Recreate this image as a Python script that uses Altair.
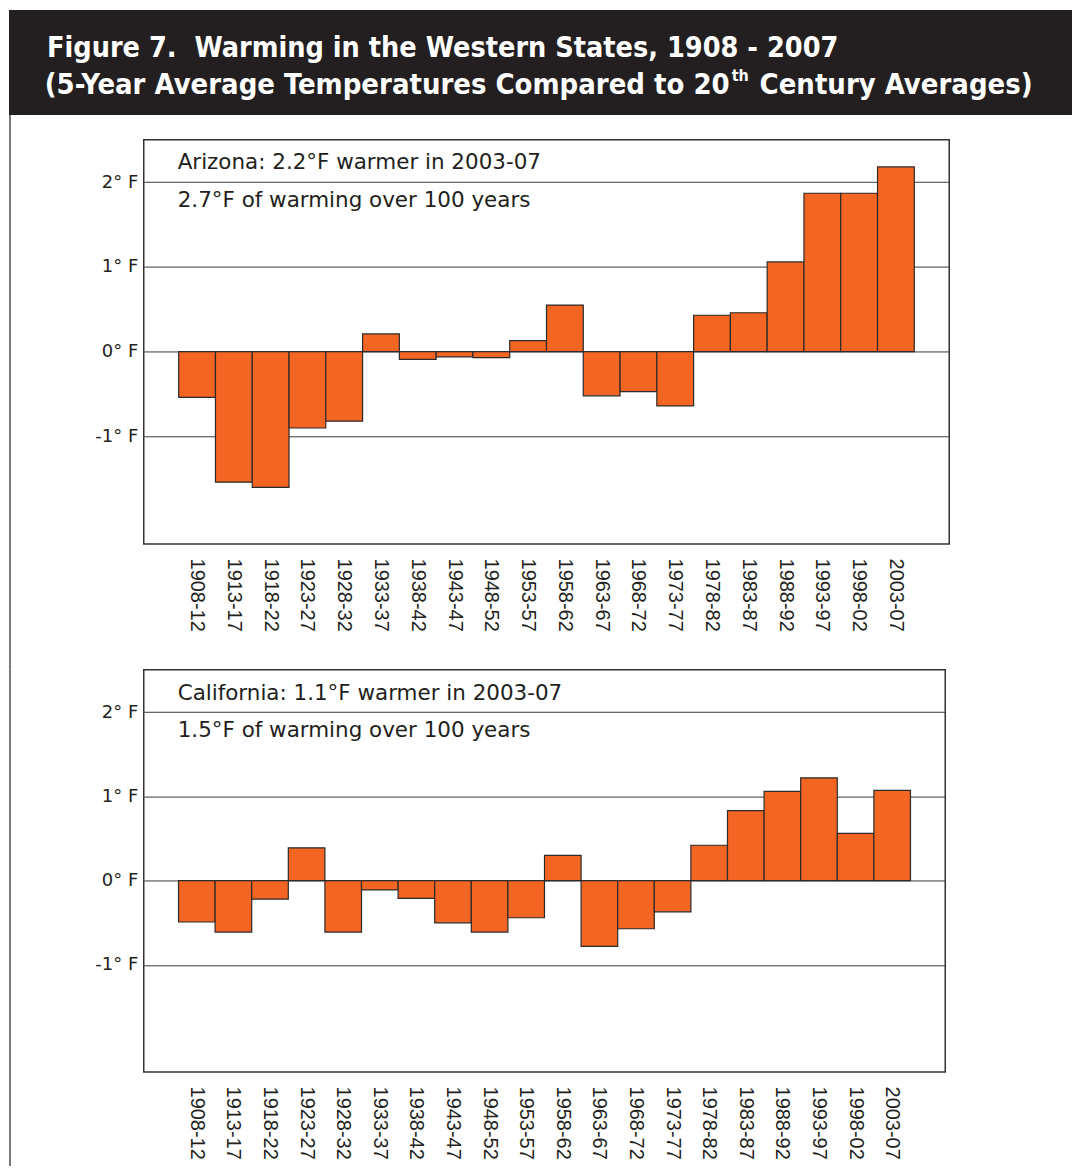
import altair as alt
import pandas as pd

# ---------------- data ----------------
periods = ["1908-12", "1913-17", "1918-22", "1923-27", "1928-32", "1933-37",
           "1938-42", "1943-47", "1948-52", "1953-57", "1958-62", "1963-67",
           "1968-72", "1973-77", "1978-82", "1983-87", "1988-92", "1993-97",
           "1998-02", "2003-07"]
arizona = [-0.54, -1.54, -1.60, -0.90, -0.82, 0.21, -0.09, -0.06, -0.07, 0.13,
           0.55, -0.52, -0.47, -0.64, 0.43, 0.46, 1.06, 1.87, 1.87, 2.18]
california = [-0.49, -0.61, -0.22, 0.39, -0.61, -0.11, -0.21, -0.50, -0.61, -0.44,
              0.30, -0.78, -0.57, -0.37, 0.42, 0.83, 1.06, 1.22, 0.56, 1.07]
y_ticks = [2, 1, 0, -1]
y_domain = [-2.27, 2.5]

title_line1 = "Figure 7.\u00a0 Warming in the Western States, 1908 - 2007"
title_line2a = "(5-Year Average Temperatures Compared to 20"
title_line2sup = "th"
title_line2b = "Century Averages)"
az_notes = ["Arizona: 2.2\u00b0F warmer in 2003-07", "2.7\u00b0F of warming over 100 years"]
ca_notes = ["California: 1.1\u00b0F warmer in 2003-07", "1.5\u00b0F of warming over 100 years"]

# ---------------- style ----------------
ORANGE = "#F26522"
DARK = "#231f20"
TITLE_FONT = "DejaVu Sans Condensed, sans-serif"
NOTE_FONT = "DejaVu Sans, sans-serif"
LABEL_FONT = "Liberation Sans, Arial, sans-serif"
ORIGIN_X = 135   # plot-area left offset from chart's left edge
HEAD_TOP = -130  # header top relative to first plot area
GAP = 126        # space between the two plot areas


def one(text):
    return pd.DataFrame({"t": [text]})


def title_text(text, x, y, size, align="left"):
    return alt.Chart(one(text)).mark_text(
        align=align, baseline="alphabetic", font=TITLE_FONT, fontSize=size,
        fontWeight="bold", color="white").encode(
        text="t:N", x=alt.value(x), y=alt.value(y))


def panel(values, notes, w, h, frame_top, frame_bottom, note_y, extra=()):
    df = pd.DataFrame({"period": periods, "temp": values})
    x = alt.X("period:N", sort=periods,
              scale=alt.Scale(paddingInner=0, paddingOuter=0.95),
              axis=alt.Axis(title=None, labelAngle=90, labelAlign="left",
                            labelBaseline="middle", labelFontSize=20,
                            labelFont=LABEL_FONT, labelColor=DARK,
                            labelPadding=14, domain=False, ticks=False,
                            grid=False))
    y = alt.Y("temp:Q",
              scale=alt.Scale(domain=y_domain, nice=False, zero=False),
              axis=alt.Axis(title=None, values=y_ticks,
                            labelExpr="datum.value + '\u00b0 F'",
                            grid=True, gridColor="#3a3a3a", gridWidth=1,
                            domain=False, ticks=False, labelFontSize=18,
                            labelFont=NOTE_FONT, labelColor=DARK,
                            labelPadding=6))
    bars = alt.Chart(df).mark_bar(fill=ORANGE, stroke="#2b2b2b",
                                  strokeWidth=1.2).encode(
        x=x, y=y, y2=alt.datum(0))
    layers = [bars]
    for note, ny in zip(notes, note_y):
        layers.append(
            alt.Chart(one(note)).mark_text(
                align="left", baseline="alphabetic", fontSize=21.5,
                font=NOTE_FONT, color=DARK).encode(
                text="t:N", x=alt.value(34), y=alt.value(ny)))
    frame = alt.Chart(one("frame")).mark_rule(
        color="#7a7a7a", strokeWidth=2).encode(
        x=alt.value(-ORIGIN_X + 1), y=alt.value(frame_top),
        y2=alt.value(frame_bottom))
    layers.append(frame)
    layers.extend(extra)
    return alt.layer(*layers).properties(
        width=w, height=h,
        view=alt.ViewBackground(stroke="#333333", strokeWidth=1.5))


# ---------------- header (drawn above the first panel) ----------------
header_bg = alt.Chart(one("bg")).mark_rect(color=DARK).encode(
    x=alt.value(-ORIGIN_X), x2=alt.value(930),
    y=alt.value(HEAD_TOP), y2=alt.value(HEAD_TOP + 105))
t1 = title_text(title_line1, 46 - 8 - ORIGIN_X, HEAD_TOP + 47, 28.6)
t2a = title_text(title_line2a, 730 - 8 - ORIGIN_X, HEAD_TOP + 84, 29, "right")
t2s = title_text(title_line2sup, 732 - 8 - ORIGIN_X, HEAD_TOP + 71, 16)
t2b = title_text(title_line2b, 760 - 8 - ORIGIN_X, HEAD_TOP + 84, 29)

top = panel(arizona, az_notes, 807, 405, -25, 405 + GAP, [29, 67],
            extra=(header_bg, t1, t2a, t2s, t2b))
bottom = panel(california, ca_notes, 803, 403, 0, 497, [30, 67])

chart = alt.vconcat(top, bottom, spacing=GAP, bounds="flush").properties(
    padding=0, background="white")

chart.save("out.html", embed_options={"renderer": "svg", "actions": False})
